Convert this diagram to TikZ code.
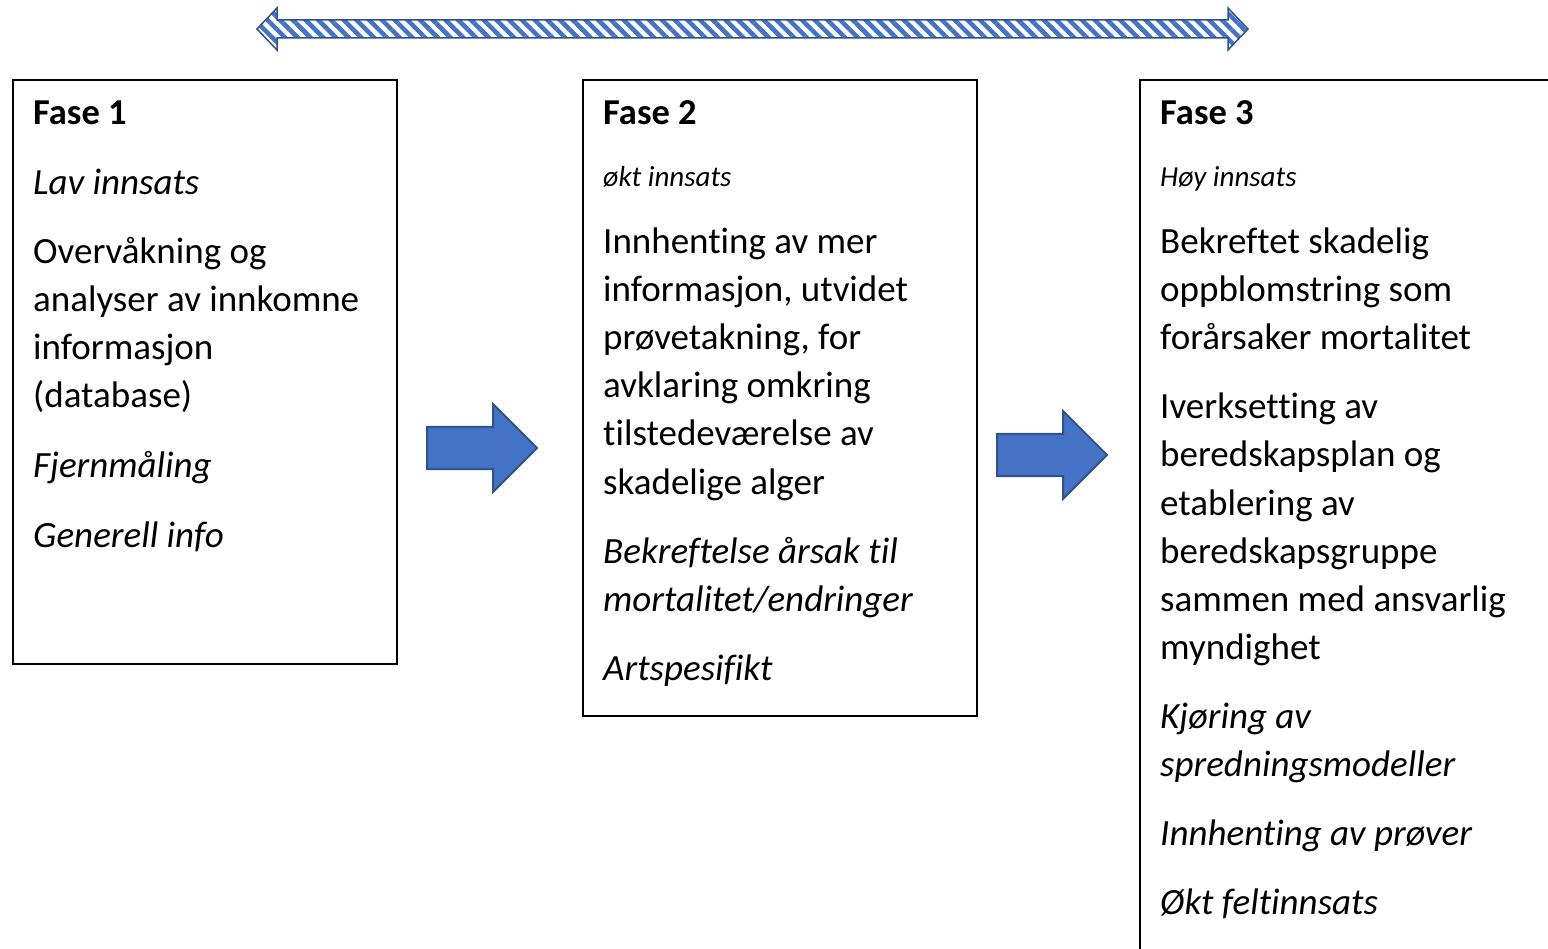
\documentclass[tikz,border=0pt]{standalone}
\usepackage{fontspec}
\setmainfont{Carlito}[Ligatures=NoCommon]
\usetikzlibrary{patterns.meta}
\definecolor{arrowfill}{HTML}{4472C4}
\definecolor{arrowline}{HTML}{2F528F}
\begin{document}
\begin{tikzpicture}[x=1pt,y=-1pt,
  body/.style={anchor=base west, inner sep=0pt, font=\fontsize{37}{48}\selectfont},
  bodyit/.style={body, font=\fontsize{37}{48}\selectfont\itshape},
  head/.style={body, font=\fontsize{36.5}{48}\selectfont\bfseries},
  small/.style={body, font=\fontsize{29}{34}\selectfont\itshape},
  phasebox/.style={draw=black, line width=2pt},
  blockarrow/.style={fill=arrowfill, draw=arrowline, line width=2pt, line join=miter},
  hatcharrow/.style={draw=arrowline, line width=1.5pt, pattern={Lines[angle=-45,distance=9pt,line width=4.5pt]}, pattern color=arrowfill}
]
\useasboundingbox (0,0) rectangle (1548,949);

% top double arrow
\draw[hatcharrow] (257,29) -- (277,8) -- (277,20) -- (1228,20) -- (1228,8) -- (1248,29)
  -- (1228,50) -- (1228,38) -- (277,38) -- (277,50) -- cycle;

% boxes
\draw[phasebox] (13,80) rectangle (397,664);
\draw[phasebox] (583,80) rectangle (977,716);
\draw[phasebox] (1600,80) -- (1140,80) -- (1140,1000);

% block arrows
\draw[blockarrow] (427,427) -- (493,427) -- (493,404) -- (537,448) -- (493,492) -- (493,469) -- (427,469) -- cycle;
\draw[blockarrow] (997,434) -- (1063,434) -- (1063,411) -- (1107,455) -- (1063,499) -- (1063,476) -- (997,476) -- cycle;

% Fase 1
\node[head]   (f1h) at (33,125) {Fase 1};
\node[bodyit] (f1a) at (33,195) {Lav innsats};
\node[body]   (f1b) at (33,264) {Overvåkning og};
\node[body]   (f1c) at (33,312) {analyser av innkomne};
\node[body]   (f1d) at (33,360) {informasjon};
\node[body]   (f1e) at (33,408) {(database)};
\node[bodyit] (f1f) at (33,477) {Fjernmåling};
\node[bodyit] (f1g) at (33,547) {Generell info};

% Fase 2
\node[head]   (f2h) at (603,125) {Fase 2};
\node[small]  (f2a) at (603,187) {økt innsats};
\node[body]   (f2b) at (603,254) {Innhenting av mer};
\node[body]   (f2c) at (603,302) {informasjon, utvidet};
\node[body]   (f2d) at (603,350) {prøvetakning, for};
\node[body]   (f2e) at (603,398) {avklaring omkring};
\node[body]   (f2f) at (603,446) {tilstedeværelse av};
\node[body]   (f2g) at (603,494) {skadelige alger};
\node[bodyit] (f2i) at (603,563) {Bekreftelse årsak til};
\node[bodyit] (f2j) at (603,611) {mortalitet/endringer};
\node[bodyit] (f2k) at (603,680) {Artspesifikt};

% Fase 3
\node[head]   (f3h) at (1160,125) {Fase 3};
\node[small]  (f3a) at (1160,187) {Høy innsats};
\node[body]   (f3b) at (1160,254) {Bekreftet skadelig};
\node[body]   (f3c) at (1160,302) {oppblomstring som};
\node[body]   (f3d) at (1160,350) {forårsaker mortalitet};
\node[body]   (f3e) at (1160,419) {Iverksetting av};
\node[body]   (f3f) at (1160,467) {beredskapsplan og};
\node[body]   (f3g) at (1160,515) {etablering av};
\node[body]   (f3i) at (1160,563) {beredskapsgruppe};
\node[body]   (f3j) at (1160,611) {sammen med ansvarlig};
\node[body]   (f3k) at (1160,659) {myndighet};
\node[bodyit] (f3l) at (1160,728) {Kjøring av};
\node[bodyit] (f3m) at (1160,776) {spredningsmodeller};
\node[bodyit] (f3n) at (1160,845) {Innhenting av prøver};
\node[bodyit] (f3o) at (1160,914) {Økt feltinnsats};
\end{tikzpicture}
\end{document}
